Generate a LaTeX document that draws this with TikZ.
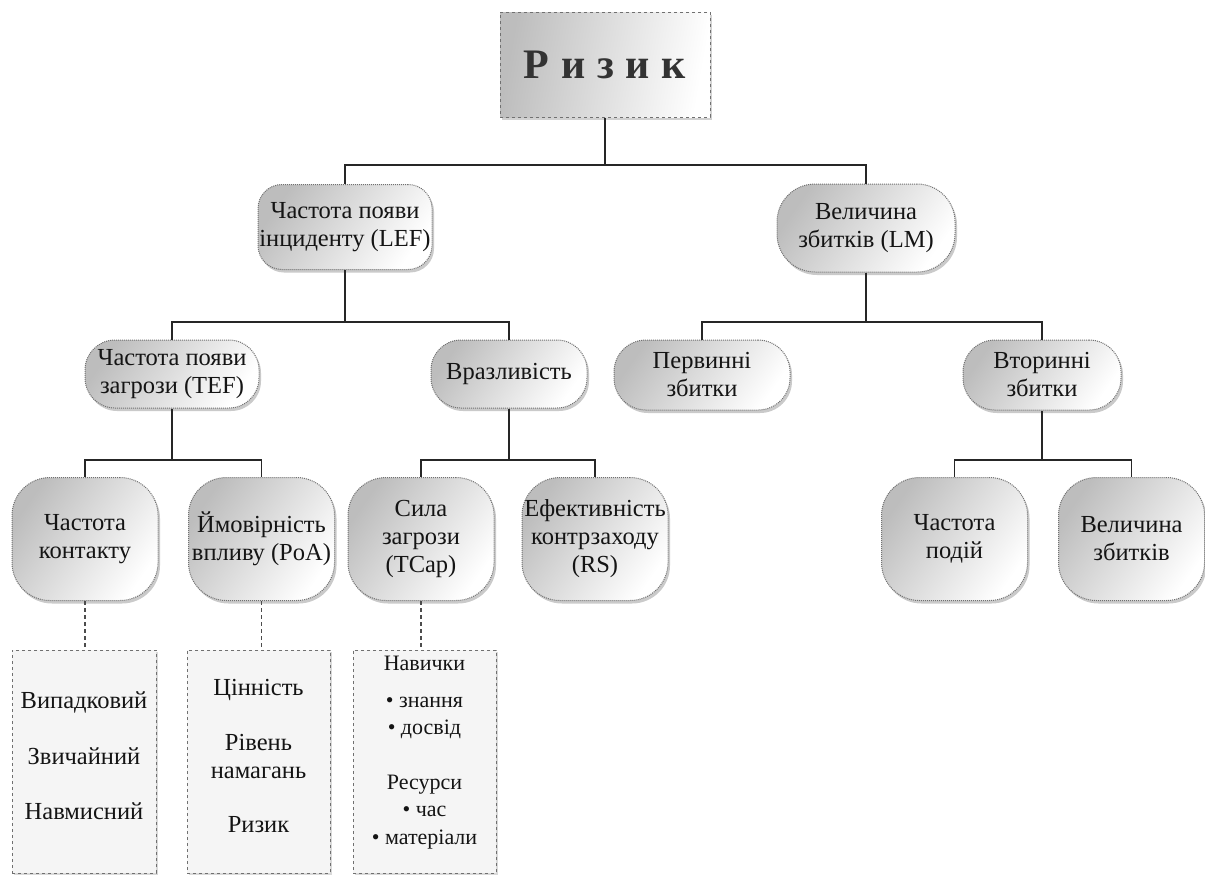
\documentclass[tikz,border=0pt]{standalone}
\usepackage{fontspec}
\setmainfont{Liberation Serif}
\newfontfamily\titlefont{Liberation Serif}[LetterSpace=28]
\usetikzlibrary{shadows}
\definecolor{txt}{HTML}{141414}
\definecolor{edge}{HTML}{707070}
\pgfdeclarehorizontalshading{grayfade}{100bp}{color(0bp)=(black!26); color(25bp)=(black!26); color(75bp)=(white); color(100bp)=(white)}
\tikzset{
  base/.style={font=\fontsize{24.5}{28}\selectfont, text=txt, align=center, inner sep=0pt},
  rbox/.style={base, draw=edge, densely dotted, line width=1pt, rounded corners=#1,
    shading=grayfade, shading angle=-35,
    drop shadow={shadow xshift=2pt, shadow yshift=-3pt, opacity=0.35, fill=black!60}},
  rbox/.default=30pt,
  titlebox/.style={base, draw=edge, dashed, line width=1pt,
    shading=grayfade, shading angle=-10,
    drop shadow={shadow xshift=2pt, shadow yshift=-3pt, opacity=0.3, fill=black!60}},
  notebox/.style={base, draw=edge, dashed, line width=0.9pt, fill=black!4,
    drop shadow={shadow xshift=1.5pt, shadow yshift=-1.5pt, opacity=0.25, fill=black!60}},
  link/.style={line width=1.3pt, black!85},
  dlink/.style={line width=1.3pt, black!70, dash pattern=on 4pt off 3pt},
}
\begin{document}
\begin{tikzpicture}[x=1pt,y=-1pt]
\useasboundingbox (0,0) rectangle (1205,876);
% title
\node[titlebox, minimum width=210pt, minimum height=105pt] (risk) at (605,64.5)
  {\titlefont\bfseries\fontsize{42}{48}\selectfont\color{black!80}Ризик};
% level 1
\node[rbox=24pt, minimum width=174pt, minimum height=85pt] (lef) at (345,227) {Частота появи\\інциденту (LEF)};
\node[rbox=38pt, minimum width=178pt, minimum height=88pt] (lm) at (866,228) {Величина\\збитків (LM)};
% level 2
\node[rbox=30pt, minimum width=174pt, minimum height=68pt] (tef) at (172,374) {Частота появи\\загрози (TEF)};
\node[rbox=30pt, minimum width=156pt, minimum height=68pt] (vuln) at (509,374) {Вразливість};
\node[rbox=32pt, minimum width=176pt, minimum height=70pt] (prim) at (702,375) {Первинні\\збитки};
\node[rbox=32pt, minimum width=158pt, minimum height=70pt] (sec) at (1042,375) {Вторинні\\збитки};
% level 3
\tikzset{sq/.style={rbox=38pt, minimum width=146pt, minimum height=123pt}}
\node[sq] (cf) at (85,539) {Частота\\контакту};
\node[sq] (poa) at (261.5,539) {Ймовірність\\впливу (PoA)};
\node[sq] (tcap) at (421,539) {Сила\\загрози\\(TCap)};
\node[sq] (rs) at (595,539) {Ефективність\\контрзаходу\\(RS)};
\node[sq] (ef) at (954.5,539) {Частота\\подій};
\node[sq] (lmag) at (1131.5,539) {Величина\\збитків};
% notes
\node[notebox, minimum width=144pt, minimum height=223pt] (n1) at (84,761.5) {};
\node[notebox, minimum width=143pt, minimum height=223pt] (n2) at (258.5,761.5) {};
\node[notebox, minimum width=143pt, minimum height=223pt] (n3) at (424.5,761.5) {};
\node[base, anchor=north] (t1) at (84,692) {Випадковий\\[28pt]Звичайний\\[27pt]Навмисний};
\node[base, anchor=north] (t2) at (258.5,679) {Цінність\\[27pt]Рівень\\намагань\\[26pt]Ризик};
\node[base, anchor=north, font=\fontsize{22}{27.5}\selectfont] (t3) at (424.5,656) {Навички\\[9pt]• знання\\• досвід\\[27pt]Ресурси\\• час\\• матеріали};
% connectors
\coordinate (b1) at (605,165);
\coordinate (b2l) at (345,322);
\coordinate (b2r) at (866,322);
\coordinate (b3a) at (172,460);
\coordinate (b3b) at (509,460);
\coordinate (b3c) at (1042,460);
\draw[link] (risk.south) -- (b1);
\draw[link] (lef.north) |- (b1) -| (lm.north);
\draw[link] (lef.south) -- (b2l);
\draw[link] (tef.north) |- (b2l) -| (vuln.north);
\draw[link] (lm.south) -- (b2r);
\draw[link] (prim.north) |- (b2r) -| (sec.north);
\draw[link] (tef.south) -- (b3a);
\draw[link] (cf.north) |- (b3a) -| (poa.north);
\draw[link] (vuln.south) -- (b3b);
\draw[link] (tcap.north) |- (b3b) -| (rs.north);
\draw[link] (sec.south) -- (b3c);
\draw[link] (ef.north) |- (b3c) -| (lmag.north);
\draw[dlink] (cf.south) -- (cf.south |- n1.north);
\draw[dlink] (poa.south) -- (poa.south |- n2.north);
\draw[dlink] (tcap.south) -- (tcap.south |- n3.north);
\end{tikzpicture}
\end{document}
